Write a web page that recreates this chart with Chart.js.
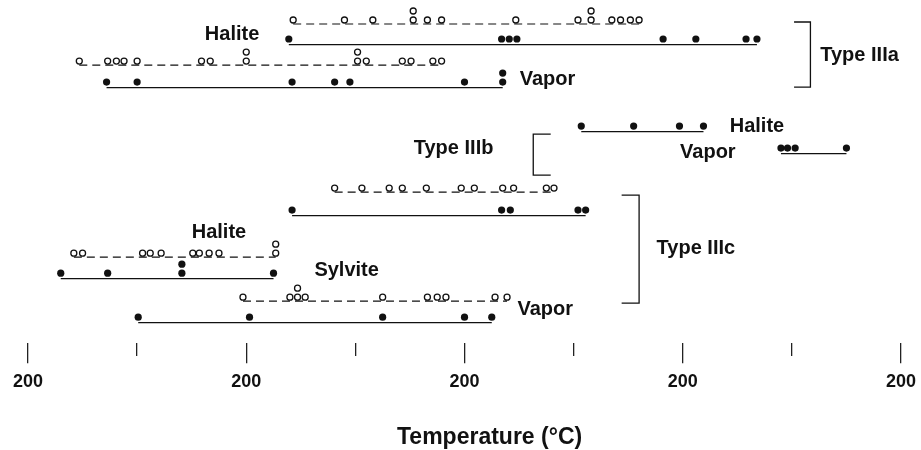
<!DOCTYPE html>
<html>
<head>
<meta charset="utf-8">
<script src="https://cdn.jsdelivr.net/npm/chart.js@4.4.0/dist/chart.umd.min.js"></script>
<style>
  html, body { margin: 0; padding: 0; background: #fff; }
  #wrap { width: 921px; height: 450px; }
</style>
</head>
<body>
<div id="wrap"><canvas id="chart"></canvas></div>
<script>
// labels under the temperature axis, one per tick (unlabelled ticks are the short ones)
const tickLabels = ['200', '', '200', '', '200', '', '200', '', '200'];
const axisTitle = 'Temperature (°C)';

// Type IIIa - open circles are dashed rows, filled dots are solid rows
const iiiaHaliteOpen = [243, 290, 316, 353, 353, 366, 379, 447, 504, 516, 516, 535, 543, 552, 560];
const iiiaHaliteFilled = [239, 434, 441, 448, 582, 612, 658, 668];
const iiiaVaporOpen = [47, 73, 81, 88, 100, 159, 167, 200, 200, 302, 302, 310, 343, 351, 371, 379];
const iiiaVaporFilled = [72, 100, 242, 281, 295, 400, 435, 435];

// Type IIIb
const iiibHaliteFilled = [507, 555, 597, 619];
const iiibVaporFilled = [690, 696, 703, 750];

// Type IIIc
const iiicUpperOpen = [281, 306, 331, 343, 365, 397, 409, 435, 445, 475, 482];
const iiicUpperFilled = [242, 434, 442, 504, 511];
const iiicHaliteOpen = [42, 50, 105, 112, 122, 151, 157, 166, 175, 227, 227];
const iiicSylviteFilled = [30, 73, 141, 141, 225];
const iiicVaporOpen = [197, 240, 247, 247, 254, 325, 366, 375, 383, 428, 439];
const iiicVaporFilled = [101, 203, 325, 400, 425];

// row placement (vertical position on the hidden y scale)
const rows = [
  { data: iiiaHaliteOpen, y: 20, open: true },
  { data: iiiaHaliteFilled, y: 39, open: false },
  { data: iiiaVaporOpen, y: 61, open: true },
  { data: iiiaVaporFilled, y: 82, open: false },
  { data: iiibHaliteFilled, y: 126, open: false },
  { data: iiibVaporFilled, y: 148, open: false },
  { data: iiicUpperOpen, y: 188, open: true },
  { data: iiicUpperFilled, y: 210, open: false },
  { data: iiicHaliteOpen, y: 253, open: true },
  { data: iiicSylviteFilled, y: 273, open: false },
  { data: iiicVaporOpen, y: 297, open: true },
  { data: iiicVaporFilled, y: 317, open: false }
];

const notes = [
  { text: 'Halite', x: 187, y: 34 },
  { text: 'Vapor', x: 476, y: 79 },
  { text: 'Type IIIa', x: 762, y: 55 },
  { text: 'Halite', x: 668, y: 126 },
  { text: 'Vapor', x: 623, y: 152 },
  { text: 'Type IIIb', x: 390, y: 148 },
  { text: 'Type IIIc', x: 612, y: 248 },
  { text: 'Halite', x: 175, y: 232 },
  { text: 'Sylvite', x: 292, y: 270 },
  { text: 'Vapor', x: 474, y: 309 }
];

// x0 = open ends, x1 = spine
const brackets = [
  { x0: 702, x1: 717, y0: 22, y1: 87 },
  { x0: 479, x1: 463, y0: 134, y1: 175 },
  { x0: 544, x1: 560, y0: 195, y1: 303 }
];

const datasets = [];
rows.forEach(r => {
  const lo = Math.min(...r.data), hi = Math.max(...r.data);
  const lineY = r.y + (r.open ? 4 : 5.5);
  datasets.push({
    data: [{ x: lo, y: lineY }, { x: hi, y: lineY }],
    showLine: true,
    pointRadius: 0,
    borderColor: '#111',
    borderWidth: 1.2,
    borderDash: r.open ? [8, 5] : [],
    clip: false
  });
  // repeated readings are stacked above each other
  const seen = {};
  const pts = r.data.map(v => {
    seen[v] = (seen[v] || 0) + 1;
    return { x: v, y: r.y - (seen[v] - 1) * 9 };
  });
  datasets.push({
    data: pts,
    showLine: false,
    pointRadius: r.open ? 3 : 3.6,
    pointBorderWidth: r.open ? 1.3 : 0,
    pointBorderColor: '#111',
    pointBackgroundColor: r.open ? '#fff' : '#111',
    clip: false
  });
});

const annotate = {
  id: 'annotate',
  afterDatasetsDraw(chart) {
    const { ctx, chartArea, scales: { x, y } } = chart;
    ctx.save();
    ctx.fillStyle = '#111';
    ctx.font = 'bold 20px "Liberation Sans", Arial, sans-serif';
    ctx.textAlign = 'center';
    ctx.textBaseline = 'middle';
    notes.forEach(n => ctx.fillText(n.text, x.getPixelForValue(n.x), y.getPixelForValue(n.y)));
    // axis title sits right of centre in the original
    ctx.font = 'bold 23px "Liberation Sans", Arial, sans-serif';
    ctx.fillText(axisTitle, x.getPixelForValue(423), chartArea.bottom + 94);
    ctx.strokeStyle = '#111';
    ctx.lineWidth = 1.3;
    brackets.forEach(b => {
      const x0 = x.getPixelForValue(b.x0), x1 = x.getPixelForValue(b.x1);
      const y0 = y.getPixelForValue(b.y0), y1 = y.getPixelForValue(b.y1);
      ctx.beginPath();
      ctx.moveTo(x0, y0);
      ctx.lineTo(x1, y0);
      ctx.lineTo(x1, y1);
      ctx.lineTo(x0, y1);
      ctx.stroke();
    });
    ctx.restore();
  }
};

new Chart(document.getElementById('chart'), {
  type: 'scatter',
  data: { datasets: datasets },
  plugins: [annotate],
  options: {
    responsive: true,
    maintainAspectRatio: false,
    animation: false,
    layout: { autoPadding: false, padding: { left: 28, right: 20, top: 0, bottom: 49 } },
    plugins: {
      legend: { display: false },
      tooltip: { enabled: false }
    },
    scales: {
      x: {
        type: 'linear',
        min: 0,
        max: 800,
        border: { display: false },
        grid: {
          drawOnChartArea: false,
          drawTicks: true,
          tickLength: 20,
          color: '#222',
          lineWidth: 1.3,
          // unlabelled ticks are drawn shorter
          tickBorderDash: ctx => (tickLabels[ctx.index] ? [] : [13, 40])
        },
        ticks: {
          stepSize: 100,
          autoSkip: false,
          maxRotation: 0,
          padding: 0,
          color: '#111',
          font: { family: '"Liberation Sans", Arial, sans-serif', size: 18, weight: 'bold', lineHeight: 2.1 },
          callback: (v, i) => tickLabels[i]
        }
      },
      y: { type: 'linear', display: false, min: 0, max: 343, reverse: true }
    }
  }
});
</script>
</body>
</html>
